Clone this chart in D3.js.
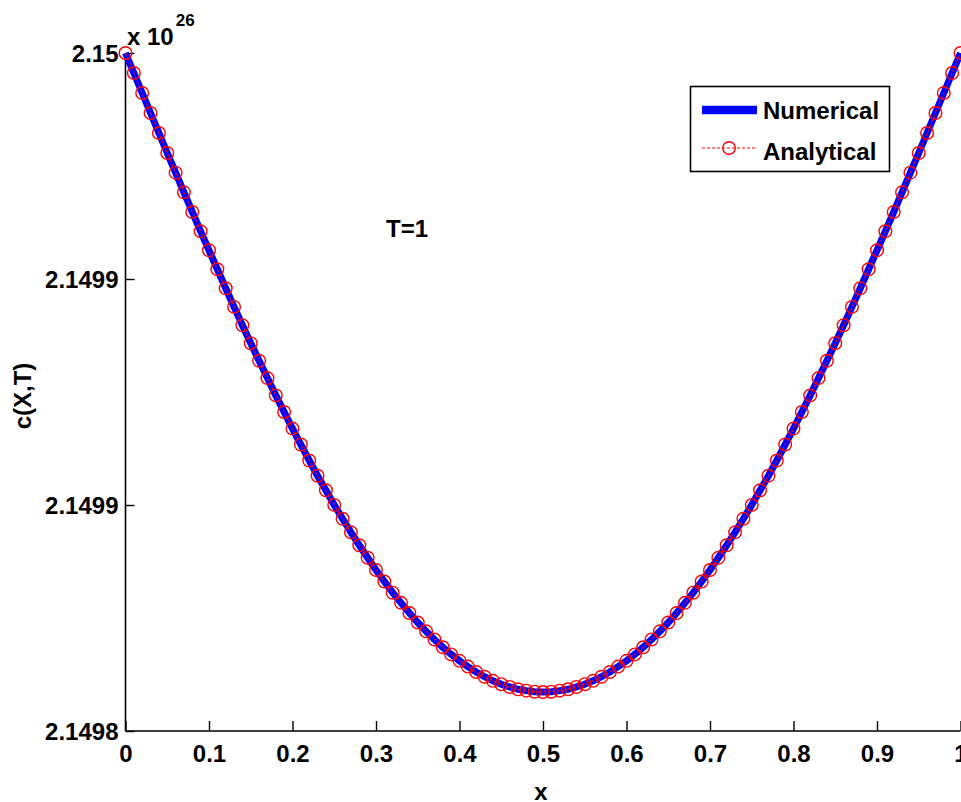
<!DOCTYPE html>
<html>
<head>
<meta charset="utf-8">
<script src="https://cdn.jsdelivr.net/npm/d3@7"></script>
<style>
  html, body { margin: 0; padding: 0; background: #fff; }
  svg { display: block; }
  text { font-family: "Liberation Sans", Arial, sans-serif; font-weight: bold; fill: #000; }
</style>
</head>
<body>
<svg id="chart" width="961" height="802"></svg>
<script>
// ---- data (values in units of 10^26) ----
const xValues = [
  0.00,0.01,0.02,0.03,0.04,0.05,0.06,0.07,0.08,0.09,
  0.10,0.11,0.12,0.13,0.14,0.15,0.16,0.17,0.18,0.19,
  0.20,0.21,0.22,0.23,0.24,0.25,0.26,0.27,0.28,0.29,
  0.30,0.31,0.32,0.33,0.34,0.35,0.36,0.37,0.38,0.39,
  0.40,0.41,0.42,0.43,0.44,0.45,0.46,0.47,0.48,0.49,
  0.50,0.51,0.52,0.53,0.54,0.55,0.56,0.57,0.58,0.59,
  0.60,0.61,0.62,0.63,0.64,0.65,0.66,0.67,0.68,0.69,
  0.70,0.71,0.72,0.73,0.74,0.75,0.76,0.77,0.78,0.79,
  0.80,0.81,0.82,0.83,0.84,0.85,0.86,0.87,0.88,0.89,
  0.90,0.91,0.92,0.93,0.94,0.95,0.96,0.97,0.98,0.99,
  1.00
];
const numerical = [
  2.1500000,2.1499941,2.1499882,2.1499823,2.1499764,2.1499705,2.1499647,2.1499589,2.1499531,2.1499474,
  2.1499418,2.1499362,2.1499306,2.1499251,2.1499197,2.1499144,2.1499092,2.1499041,2.1498990,2.1498941,
  2.1498892,2.1498845,2.1498798,2.1498753,2.1498710,2.1498667,2.1498626,2.1498586,2.1498548,2.1498511,
  2.1498475,2.1498441,2.1498408,2.1498378,2.1498348,2.1498320,2.1498294,2.1498270,2.1498247,2.1498226,
  2.1498207,2.1498190,2.1498174,2.1498160,2.1498148,2.1498138,2.1498130,2.1498123,2.1498119,2.1498116,
  2.1498115,
  2.1498116,2.1498119,2.1498123,2.1498130,2.1498138,2.1498148,2.1498160,2.1498174,2.1498190,2.1498207,
  2.1498226,2.1498247,2.1498270,2.1498294,2.1498320,2.1498348,2.1498378,2.1498408,2.1498441,2.1498475,
  2.1498511,2.1498548,2.1498586,2.1498626,2.1498667,2.1498710,2.1498753,2.1498798,2.1498845,2.1498892,
  2.1498941,2.1498990,2.1499041,2.1499092,2.1499144,2.1499197,2.1499251,2.1499306,2.1499362,2.1499418,
  2.1499474,2.1499531,2.1499589,2.1499647,2.1499705,2.1499764,2.1499823,2.1499882,2.1499941,2.1500000
];
const analytical = [
  2.1500000,2.1499941,2.1499882,2.1499823,2.1499764,2.1499705,2.1499647,2.1499589,2.1499531,2.1499474,
  2.1499418,2.1499362,2.1499306,2.1499251,2.1499197,2.1499144,2.1499092,2.1499041,2.1498990,2.1498941,
  2.1498892,2.1498845,2.1498798,2.1498753,2.1498710,2.1498667,2.1498626,2.1498586,2.1498548,2.1498511,
  2.1498475,2.1498441,2.1498408,2.1498378,2.1498348,2.1498320,2.1498294,2.1498270,2.1498247,2.1498226,
  2.1498207,2.1498190,2.1498174,2.1498160,2.1498148,2.1498138,2.1498130,2.1498123,2.1498119,2.1498116,
  2.1498115,
  2.1498116,2.1498119,2.1498123,2.1498130,2.1498138,2.1498148,2.1498160,2.1498174,2.1498190,2.1498207,
  2.1498226,2.1498247,2.1498270,2.1498294,2.1498320,2.1498348,2.1498378,2.1498408,2.1498441,2.1498475,
  2.1498511,2.1498548,2.1498586,2.1498626,2.1498667,2.1498710,2.1498753,2.1498798,2.1498845,2.1498892,
  2.1498941,2.1498990,2.1499041,2.1499092,2.1499144,2.1499197,2.1499251,2.1499306,2.1499362,2.1499418,
  2.1499474,2.1499531,2.1499589,2.1499647,2.1499705,2.1499764,2.1499823,2.1499882,2.1499941,2.1500000
];
const xTicks = [0,0.1,0.2,0.3,0.4,0.5,0.6,0.7,0.8,0.9,1];
const xTickLabels = ["0","0.1","0.2","0.3","0.4","0.5","0.6","0.7","0.8","0.9","1"];
const yTicks = [2.1498, 2.14986667, 2.14993333, 2.15];
const yTickLabels = ["2.1498","2.1499","2.1499","2.15"];
const yDomain = [2.1498, 2.15];
const seriesNames = ["Numerical","Analytical"];

// ---- layout ----
const svg = d3.select("#chart");
const mLeft = 125.5, mRight = 960.5, mTop = 53, mBottom = 731;
const x = d3.scaleLinear().domain([0,1]).range([mLeft,mRight]);
const y = d3.scaleLinear().domain(yDomain).range([mBottom,mTop]);

// axes
const xAxis = d3.axisBottom(x).tickValues(xTicks).tickSize(-10).tickPadding(14)
  .tickFormat((d,i)=>xTickLabels[i]);
const gx = svg.append("g").attr("transform",`translate(0,${mBottom})`).call(xAxis);
const yAxis = d3.axisLeft(y).tickValues(yTicks).tickSize(-9).tickPadding(7)
  .tickFormat((d,i)=>yTickLabels[i]);
const gy = svg.append("g").attr("transform",`translate(${mLeft},0)`).call(yAxis);
[gx,gy].forEach(g=>{
  g.select(".domain").attr("stroke","#000").attr("stroke-width",1.6);
  g.selectAll(".tick line").attr("stroke","#000").attr("stroke-width",1.4);
  g.selectAll(".tick text").attr("font-size",24).attr("font-weight","bold")
    .attr("font-family","'Liberation Sans', Arial, sans-serif").attr("fill","#000");
});
gx.selectAll(".tick text").attr("dy","0.72em");
gy.selectAll(".tick text").attr("dy","0.36em");
gx.select(".domain").attr("d",`M${mLeft},0H${mRight}`);
gy.select(".domain").attr("d",`M0,${mBottom}V${mTop}`);

// series
const pts = xValues.map((xv,i)=>({x:xv, n:numerical[i], a:analytical[i]}));
const lineN = d3.line().x(d=>x(d.x)).y(d=>y(d.n));
const lineA = d3.line().x(d=>x(d.x)).y(d=>y(d.a));
svg.append("path").datum(pts).attr("d",lineN).attr("fill","none")
  .attr("stroke","#0000ff").attr("stroke-width",7);
svg.append("path").datum(pts).attr("d",lineA).attr("fill","none")
  .attr("stroke","#ff0000").attr("stroke-width",1).attr("stroke-dasharray","3,2");
svg.append("g").selectAll("circle").data(pts).join("circle")
  .attr("cx",d=>x(d.x)).attr("cy",d=>y(d.a)).attr("r",6.3)
  .attr("fill","none").attr("stroke","#ff0000").attr("stroke-width",1.4);

// exponent
const ex = svg.append("text").attr("x",127).attr("y",45).attr("font-size",24);
ex.append("tspan").text("x 10");
ex.append("tspan").attr("font-size",17).attr("dy",-19).attr("dx",2).text("26");

// axis labels
svg.append("text").attr("x",541).attr("y",800).attr("text-anchor","middle")
  .attr("font-size",24).text("x");
svg.append("text").attr("transform","translate(31,396) rotate(-90)")
  .attr("text-anchor","middle").attr("font-size",24).text("c(X,T)");

// annotation
svg.append("text").attr("x",386).attr("y",237).attr("font-size",24).text("T=1");

// legend
const lg = svg.append("g");
lg.append("rect").attr("x",690.5).attr("y",86.5).attr("width",199).attr("height",85)
  .attr("fill","#fff").attr("stroke","#000").attr("stroke-width",1.6);
lg.append("line").attr("x1",702).attr("x2",757).attr("y1",110).attr("y2",110)
  .attr("stroke","#0000ff").attr("stroke-width",8.5);
lg.append("line").attr("x1",702).attr("x2",757).attr("y1",148).attr("y2",148)
  .attr("stroke","#ff0000").attr("stroke-width",1).attr("stroke-dasharray","3,2");
lg.append("circle").attr("cx",729).attr("cy",148).attr("r",6.3)
  .attr("fill","none").attr("stroke","#ff0000").attr("stroke-width",1.4);
lg.append("text").attr("x",763).attr("y",119).attr("font-size",24).text(seriesNames[0]);
lg.append("text").attr("x",763).attr("y",160).attr("font-size",24).text(seriesNames[1]);
</script>
</body>
</html>
